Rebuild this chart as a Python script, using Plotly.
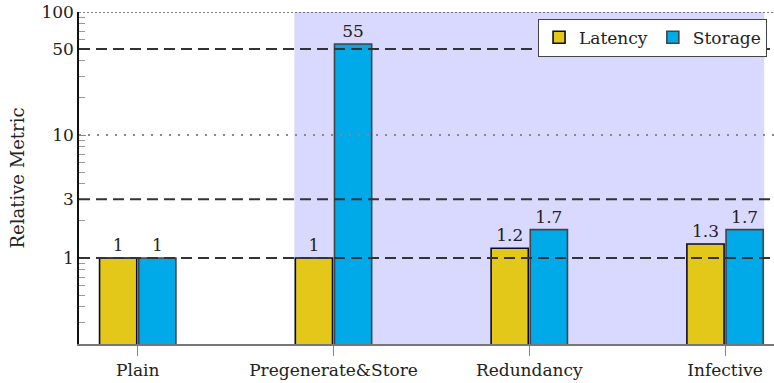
import plotly.graph_objects as go
import math

categories = ["Plain", "Pregenerate&Store", "Redundancy", "Infective"]
latency = [1, 1, 1.2, 1.3]
storage = [1, 55, 1.7, 1.7]
latency_labels = ["1", "1", "1.2", "1.3"]
storage_labels = ["1", "55", "1.7", "1.7"]
y_ticks = [1, 3, 10, 50, 100]
y_minor = [0.3, 0.4, 0.5, 0.6, 0.7, 0.8, 0.9, 2, 4, 5, 6, 7, 8, 9, 20, 30, 40, 60, 70, 80, 90]
dashed_levels = [1, 3, 50]
dotted_levels = [10]

FONT = "DejaVu Serif"
YELLOW = "#E3C81A"
BLUE = "#00A9E8"
FS = 17

fig = go.Figure()
fig.add_trace(go.Bar(
    name="Latency", x=categories, y=latency, text=latency_labels,
    textposition="outside", cliponaxis=False,
    marker=dict(color=YELLOW, line=dict(color="#0a0a30", width=1.6)),
    textfont=dict(family=FONT, size=FS, color="#222"),
))
fig.add_trace(go.Bar(
    name="Storage", x=categories, y=storage, text=storage_labels,
    textposition="outside", cliponaxis=False,
    marker=dict(color=BLUE, line=dict(color="#444444", width=1.6)),
    textfont=dict(family=FONT, size=FS, color="#222"),
))

shapes = [dict(type="rect", xref="x", yref="paper", x0=0.8, x1=3.2, y0=0, y1=1,
               fillcolor="#D9D9FF", line=dict(width=0), layer="below")]
for v in dashed_levels:
    shapes.append(dict(type="line", xref="paper", yref="y", x0=0, x1=1, y0=v, y1=v,
                       line=dict(color="#333333", width=2, dash="11px,6px"), layer="above"))
for v in dotted_levels:
    shapes.append(dict(type="line", xref="paper", yref="y", x0=0, x1=1, y0=v, y1=v,
                       line=dict(color="#888888", width=2, dash="2px,7px"), layer="above"))
shapes.append(dict(type="line", xref="paper", yref="y", x0=0, x1=1, y0=100, y1=100,
                   line=dict(color="#555555", width=1.5, dash="2px,2px"), layer="above"))
fig.update_layout(shapes=shapes)

fig.update_layout(
    width=774, height=383,
    margin=dict(l=79, r=0, t=12, b=39),
    plot_bgcolor="white", paper_bgcolor="white",
    barmode="group", bargap=0.6, bargroupgap=0.05,
    font=dict(family=FONT, size=FS, color="#222"),
    showlegend=True,
    legend=dict(orientation="h", x=0.99, xanchor="right", y=0.98, yanchor="top",
                bgcolor="white", bordercolor="#444", borderwidth=1,
                font=dict(family=FONT, size=FS, color="#222"),
                itemwidth=30, tracegroupgap=0),
    xaxis=dict(range=[-0.3, 3.25], showgrid=False, ticks="outside", ticklen=10,
               tickcolor="#888", tickwidth=1, showline=True, linecolor="#777",
               linewidth=1.5, tickfont=dict(family=FONT, size=FS, color="#222")),
    yaxis=dict(type="log", range=[math.log10(0.2), 2], tickvals=y_ticks,
               ticktext=[str(v) for v in y_ticks], ticks="inside", ticklen=7,
               tickcolor="#888", showgrid=False, showline=True, linecolor="#111",
               linewidth=1.5, zeroline=False,
               tickfont=dict(family=FONT, size=FS, color="#222"),
               title=dict(text="Relative Metric", font=dict(family=FONT, size=18, color="#222"),
                          standoff=12),
               minor=dict(tickvals=y_minor, ticks="inside", ticklen=6, tickcolor="#999",
                          showgrid=False)),
)
fig.write_html("out.html")
